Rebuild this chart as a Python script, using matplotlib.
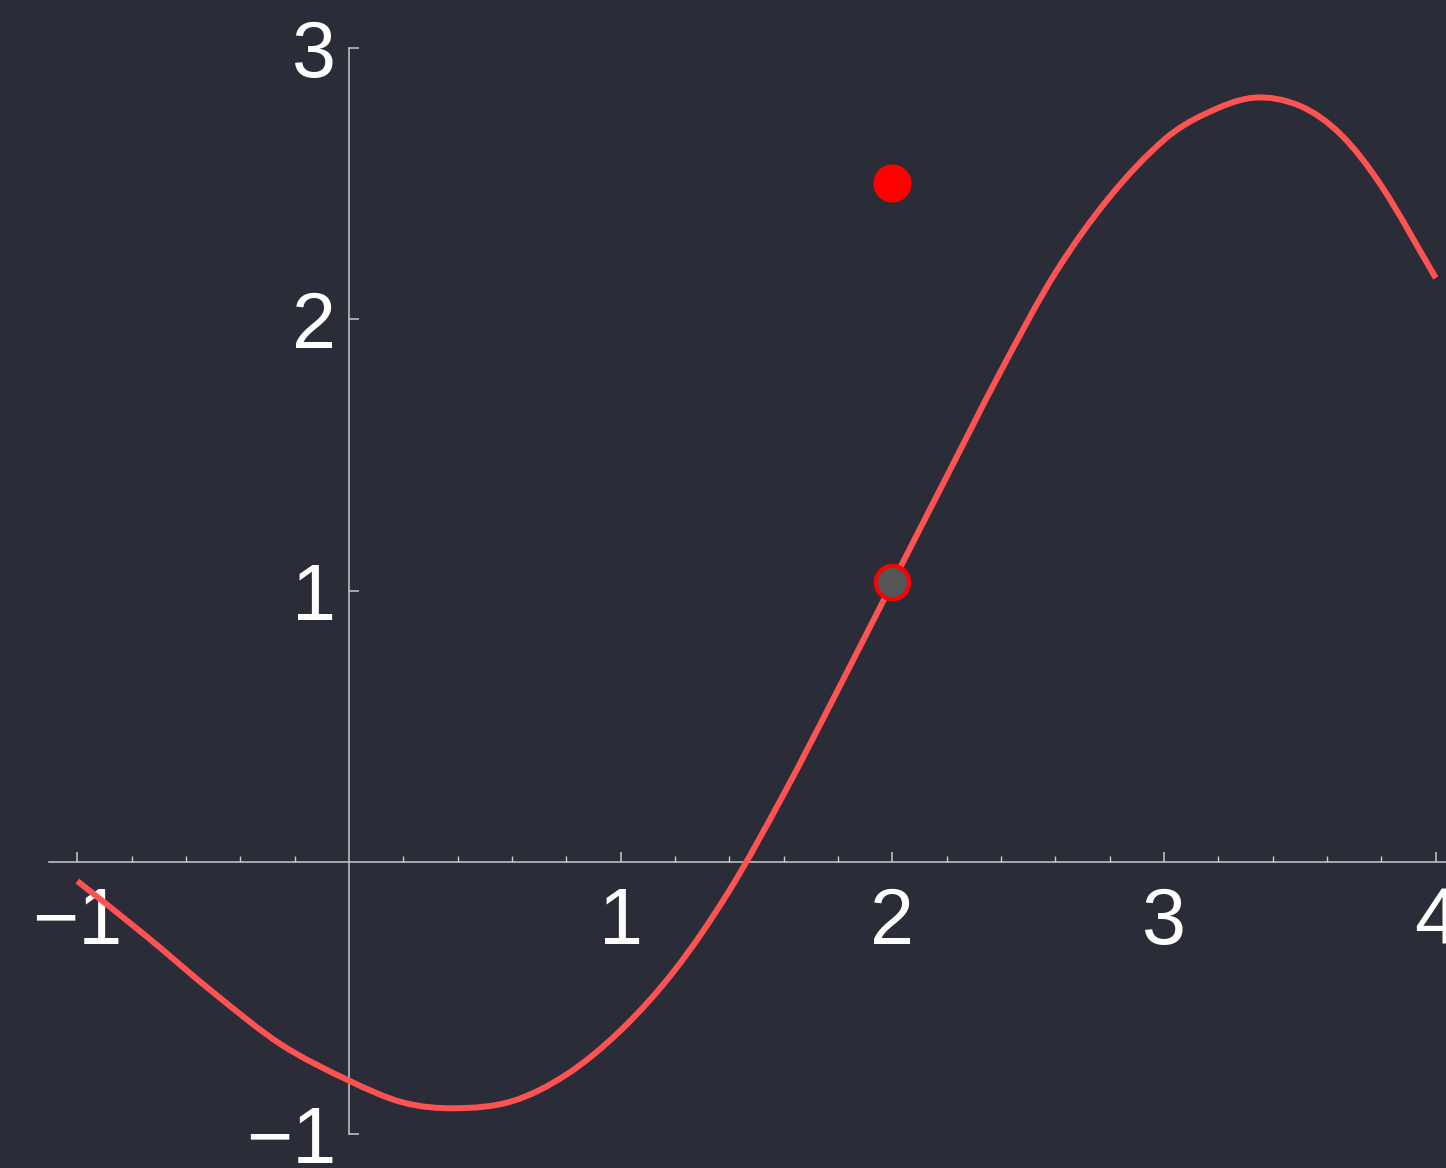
import matplotlib
matplotlib.use("Agg")
import matplotlib.pyplot as plt
from matplotlib.path import Path
from matplotlib.patches import PathPatch
import numpy as np

# curve
curve_x = [-1.0, -0.75, -0.5, -0.25, 0.0, 0.2, 0.39, 0.6, 0.8, 1.0,
           1.2, 1.4, 1.6, 1.8, 2.0, 2.2, 2.4, 2.6, 2.8, 3.0,
           3.15, 3.33, 3.5, 3.65, 3.8, 4.0]
curve_y = [-0.07, -0.27, -0.48, -0.672, -0.805, -0.886, -0.907, -0.881, -0.783, -0.620,
           -0.397, -0.105, 0.25, 0.635, 1.028, 1.42, 1.81, 2.17, 2.45, 2.66,
           2.755, 2.815, 2.785, 2.68, 2.49, 2.151]

# the two points at x = 2
point_on = (2.0, 1.03)
point_off = (2.0, 2.5)

x_ticks = [-1, 1, 2, 3, 4]
y_ticks = [-1, 1, 2, 3]
x_minor = [round(v, 1) for v in np.arange(-1.0, 4.01, 0.2)]

bg = "#2a2d37"
axis_col = "#c8c8cc"

plt.rcParams["font.family"] = ["Liberation Sans", "DejaVu Sans"]


def smooth_path(xs, ys):
    # cubic bezier pieces through the read points (hermite tangents)
    xs = np.asarray(xs, float)
    ys = np.asarray(ys, float)
    n = len(xs)
    m = np.empty(n)
    m[0] = (ys[1] - ys[0]) / (xs[1] - xs[0])
    m[-1] = (ys[-1] - ys[-2]) / (xs[-1] - xs[-2])
    m[1:-1] = (ys[2:] - ys[:-2]) / (xs[2:] - xs[:-2])
    verts = [(xs[0], ys[0])]
    codes = [Path.MOVETO]
    for i in range(n - 1):
        h = xs[i + 1] - xs[i]
        verts += [(xs[i] + h / 3, ys[i] + m[i] * h / 3),
                  (xs[i + 1] - h / 3, ys[i + 1] - m[i + 1] * h / 3),
                  (xs[i + 1], ys[i + 1])]
        codes += [Path.CURVE4] * 3
    return Path(verts, codes)


fig = plt.figure(figsize=(14.46, 11.68), dpi=100, facecolor=bg)
ax = fig.add_axes([0, 0, 1, 1], facecolor=bg)

ax.add_patch(PathPatch(smooth_path(curve_x, curve_y), fill=False,
                       edgecolor="#ff5252", lw=4.3, capstyle="butt", zorder=3))
ax.plot(*point_off, "o", ms=26.5, color="#ff0000", mec="#ff0000", zorder=4)
ax.plot(*point_on, "o", ms=24, color="#555555", mec="#ff0000", mew=3, zorder=4)

ax.set_xlim(-1.2845, 4.0376)
ax.set_ylim(-1.127, 3.175)

for s in ["top", "right"]:
    ax.spines[s].set_visible(False)
ax.spines["left"].set_position(("data", 0))
ax.spines["bottom"].set_position(("data", 0))
ax.spines["left"].set_bounds(-1, 3)
ax.spines["bottom"].set_bounds(-1.104, 4.04)
for s in ["left", "bottom"]:
    ax.spines[s].set_color(axis_col)
    ax.spines[s].set_linewidth(1.1)

ax.set_xticks(x_ticks)
ax.set_xticklabels(["\u22121" if t < 0 else str(t) for t in x_ticks])
ax.set_xticks([v for v in x_minor if abs(v - round(v)) > 1e-6], minor=True)
ax.set_yticks(y_ticks)
ax.set_yticklabels(["\u22121" if t < 0 else str(t) for t in y_ticks])

ax.tick_params(axis="x", which="major", direction="in", length=7, width=1.1,
               color=axis_col, labelcolor="white", labelsize=57, pad=17)
ax.tick_params(axis="x", which="minor", direction="in", length=4, width=1.0,
               color=axis_col)
ax.tick_params(axis="y", which="major", direction="in", length=7, width=1.1,
               color=axis_col, labelcolor="white", labelsize=57, pad=9)

fig.savefig("out.png", dpi=100, facecolor=bg)
